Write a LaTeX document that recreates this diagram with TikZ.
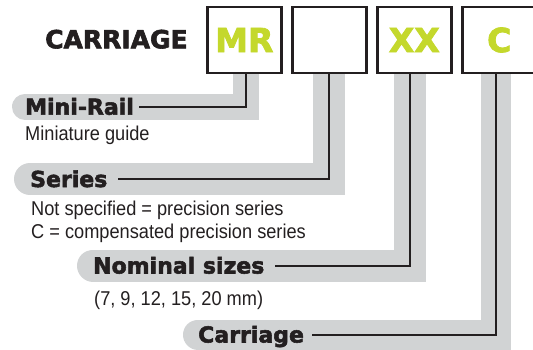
\documentclass[tikz,border=0pt]{standalone}
\usepackage{fontspec}
\setmainfont{Liberation Sans}[FakeStretch=0.91]
\newfontfamily\heavyfont{DejaVu Sans}[BoldFeatures={FakeBold=2.5}]
\usetikzlibrary{positioning,calc,backgrounds}
\definecolor{railgray}{RGB}{209,211,212}
\definecolor{codegreen}{RGB}{196,216,44}
\definecolor{inkblack}{RGB}{35,31,32}

\begin{document}
\begin{tikzpicture}[
  x=1pt, y=-1pt,
  codebox/.style={rectangle, draw=inkblack, line width=2.5pt, fill=white, minimum width=74pt, minimum height=66pt, inner sep=0pt, text=codegreen, font=\heavyfont\bfseries\fontsize{33}{33}\selectfont},
  tag/.style={font=\heavyfont\bfseries\fontsize{22}{22}\selectfont, text=inkblack, text height=16pt, text depth=0pt, inner sep=0pt, anchor=west},
  note/.style={font=\fontsize{20}{23}\selectfont, text=inkblack, inner sep=0pt, anchor=base west, align=left},
  band/.style={line width=#1, draw=railgray, line cap=round},
  band/.default=30pt,
  lead/.style={line width=2pt, draw=inkblack},
  node distance=8.5pt
]
\useasboundingbox (0,0) rectangle (533,349);
\clip (0,0) rectangle (533,349);

% Order code boxes
\node[font=\heavyfont\bfseries\fontsize{25}{25}\selectfont, inner sep=0pt, anchor=base west, text=inkblack] (title) at (45,48.3) {CARRIAGE};
\node[codebox] (b1) at (244.3,40) {MR};
\node[codebox, right=of b1] (b2) {};
\node[codebox, right=of b2] (b3) {XX};
\node[codebox, right=of b3] (b4) {C\hspace{10pt}};

% Field names
\node[tag] (minirail) at (25,106.7) {Mini-Rail};
\node[tag] (series) at (30,179) {Series};
\node[tag] (nominal) at (93,265.5) {Nominal sizes};
\node[tag] (carriage) at (198,334.5) {Carriage};

% Field descriptions (base = last line)
\node[note] (minidesc) at (25,140) {Miniature guide};
\node[note] (seriesdesc) at (31,238) {Not specified = precision series\\C = compensated precision series};
\node[note] (sizedesc) at (94,305) {(7, 9, 12, 15, 20 mm)};

% Gray bands behind the leaders
\begin{scope}[on background layer]
\draw[band=26pt] ([xshift=2pt]b1.south) |- (minirail.west);
\draw[band=32pt] ([xshift=-0.7pt]b2.south) |- (series.west);
\draw[band=32pt] ([xshift=-4pt]b3.south) |- (nominal.west);
\draw[band=30pt] ([xshift=-3.3pt]b4.south) |- (carriage.west);
\end{scope}

% Leaders from box to field name
\draw[lead] ([xshift=2pt]b1.south) |- ([xshift=5pt]minirail.east);
\draw[lead] ([xshift=-0.7pt]b2.south) |- ([xshift=10pt]series.east);
\draw[lead] ([xshift=-4pt]b3.south) |- ([xshift=10pt]nominal.east);
\draw[lead] ([xshift=-3.3pt]b4.south) |- ([xshift=8pt]carriage.east);
\end{tikzpicture}
\end{document}
